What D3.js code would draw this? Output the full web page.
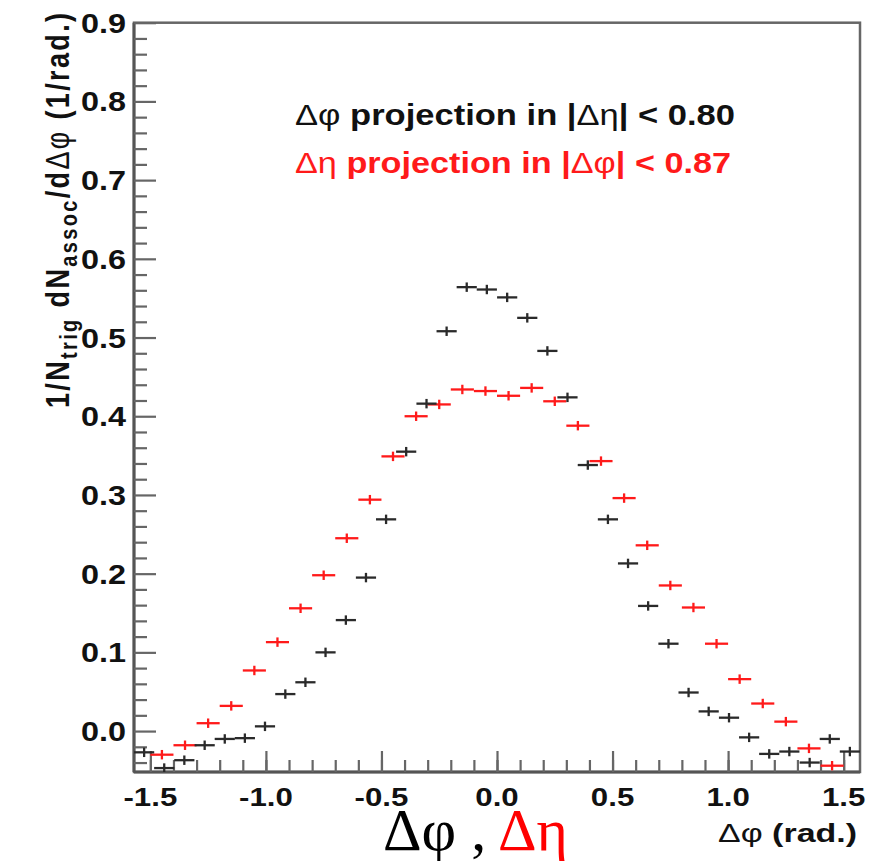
<!DOCTYPE html>
<html>
<head>
<meta charset="utf-8">
<script src="https://cdn.jsdelivr.net/npm/d3@7"></script>
<style>
  html, body { margin: 0; padding: 0; background: #fff; }
  svg { display: block; }
</style>
</head>
<body>
<svg id="chart" width="889" height="861"></svg>
<script>
// ---------------- data ----------------
// Δφ projection in |Δη| < 0.80 (black), 36 bins over [-π/2, π/2]
const blackX = [-1.527, -1.440, -1.353, -1.265, -1.178, -1.091, -1.004, -0.916, -0.829, -0.742,
                -0.654, -0.567, -0.480, -0.393, -0.305, -0.218, -0.131, -0.044, 0.044, 0.131,
                 0.218, 0.305, 0.393, 0.480, 0.567, 0.654, 0.742, 0.829, 0.916, 1.004,
                 1.091, 1.178, 1.265, 1.353, 1.440, 1.527];
const blackY = [-0.027, -0.047, -0.037, -0.018, -0.010, -0.009, 0.006, 0.047, 0.062, 0.100,
                 0.141, 0.195, 0.269, 0.355, 0.416, 0.508, 0.564, 0.561, 0.551, 0.525,
                 0.483, 0.424, 0.338, 0.269, 0.213, 0.159, 0.111, 0.049, 0.025, 0.017,
                -0.008, -0.029, -0.026, -0.040, -0.010, -0.026];
const blackBinWidth = 0.0873;
const blackErr = 0.006;

// Δη projection in |Δφ| < 0.87 (red), 30 bins of width 0.1
const redX = [-1.45, -1.35, -1.25, -1.15, -1.05, -0.95, -0.85, -0.75, -0.65, -0.55,
              -0.45, -0.35, -0.25, -0.15, -0.05, 0.05, 0.15, 0.25, 0.35, 0.45,
               0.55, 0.65, 0.75, 0.85, 0.95, 1.05, 1.15, 1.25, 1.35, 1.45];
const redY = [-0.030, -0.018, 0.010, 0.032, 0.077, 0.113, 0.156, 0.198, 0.245, 0.294,
               0.349, 0.400, 0.415, 0.434, 0.432, 0.426, 0.436, 0.419, 0.388, 0.343,
               0.296, 0.236, 0.185, 0.157, 0.111, 0.066, 0.035, 0.012, -0.022, -0.044];
const redBinWidth = 0.1;
const redErr = 0.006;

// axis ticks
const xMajorTicks = [-1.5, -1.0, -0.5, 0.0, 0.5, 1.0, 1.5];
const xMinorTicks = [-1.5, -1.4, -1.3, -1.2, -1.1, -1.0, -0.9, -0.8, -0.7, -0.6, -0.5, -0.4, -0.3, -0.2, -0.1,
                     0.0, 0.1, 0.2, 0.3, 0.4, 0.5, 0.6, 0.7, 0.8, 0.9, 1.0, 1.1, 1.2, 1.3, 1.4, 1.5];
const xTickLabels = ["-1.5", "-1.0", "-0.5", "0.0", "0.5", "1.0", "1.5"];
const yMajorTicks = [0.0, 0.1, 0.2, 0.3, 0.4, 0.5, 0.6, 0.7, 0.8, 0.9];
const yTickLabels = ["0.0", "0.1", "0.2", "0.3", "0.4", "0.5", "0.6", "0.7", "0.8", "0.9"];
const yMinorTicks = [-0.04, -0.02, 0.02, 0.04, 0.06, 0.08, 0.12, 0.14, 0.16, 0.18, 0.22, 0.24, 0.26, 0.28,
                     0.32, 0.34, 0.36, 0.38, 0.42, 0.44, 0.46, 0.48, 0.52, 0.54, 0.56, 0.58,
                     0.62, 0.64, 0.66, 0.68, 0.72, 0.74, 0.76, 0.78, 0.82, 0.84, 0.86, 0.88];
const xDomain = [-Math.PI / 2, Math.PI / 2];
const yDomain = [-0.052, 0.9];

// ---------------- layout ----------------
const L = 134, R = 860, T = 22.7, B = 772;
const SX = 1.2; // horizontal stretch of the original picture
const svg = d3.select("#chart");
const x = d3.scaleLinear().domain(xDomain).range([L, R]);
const y = d3.scaleLinear().domain(yDomain).range([B, T]);
const axisColor = "#666";
const sans = "'Liberation Sans', Arial, Helvetica, sans-serif";

// frame
svg.append("rect").attr("x", L).attr("y", T).attr("width", R - L).attr("height", B - T)
  .attr("fill", "none").attr("stroke", axisColor).attr("stroke-width", 2.5);
svg.append("line").attr("x1", L).attr("x2", L).attr("y1", T).attr("y2", B)
  .attr("stroke", "#555").attr("stroke-width", 3);
svg.append("line").attr("x1", L).attr("x2", R).attr("y1", B).attr("y2", B)
  .attr("stroke", "#555").attr("stroke-width", 3);

// y axis ticks (inward)
const gy = svg.append("g").attr("transform", `translate(${L},0)`);
gy.call(d3.axisLeft(y).tickValues(yMajorTicks).tickSize(-22).tickFormat(""));
const gy2 = svg.append("g").attr("transform", `translate(${L},0)`);
gy2.call(d3.axisLeft(y).tickValues(yMinorTicks).tickSize(-13).tickFormat(""));
// x axis ticks (inward)
const gx = svg.append("g").attr("transform", `translate(0,${B})`);
gx.call(d3.axisBottom(x).tickValues(xMinorTicks).tickSize(-12).tickFormat(""));
const gx2 = svg.append("g").attr("transform", `translate(0,${B})`);
gx2.call(d3.axisBottom(x).tickValues(xMajorTicks).tickSize(-21).tickFormat(""));
[gy, gy2, gx, gx2].forEach(g => {
  g.select(".domain").remove();
  g.selectAll(".tick line").attr("stroke", axisColor).attr("stroke-width", 2.2);
});

// tick labels
svg.append("g").selectAll("text").data(yMajorTicks).join("text")
  .attr("transform", d => `translate(126,${y(d) + 10}) scale(${SX},1)`)
  .attr("text-anchor", "end")
  .attr("font-family", sans).attr("font-weight", "bold").attr("font-size", 27)
  .attr("fill", "#111")
  .text((d, i) => yTickLabels[i]);
svg.append("g").selectAll("text").data(xMajorTicks).join("text")
  .attr("transform", d => `translate(${x(d)},806) scale(${SX},1)`)
  .attr("text-anchor", "middle")
  .attr("font-family", sans).attr("font-weight", "bold").attr("font-size", 26)
  .attr("fill", "#111")
  .text((d, i) => xTickLabels[i]);

// ---------------- data marks ----------------
function drawSeries(xs, ys, bw, err, color) {
  const g = svg.append("g").attr("stroke", color).attr("stroke-width", 2.3);
  const data = xs.map((v, i) => ({ x: v, y: ys[i] }));
  g.selectAll("line.h").data(data).join("line").attr("class", "h")
    .attr("x1", d => x(d.x - bw / 2)).attr("x2", d => x(d.x + bw / 2))
    .attr("y1", d => y(d.y)).attr("y2", d => y(d.y));
  g.selectAll("line.v").data(data).join("line").attr("class", "v")
    .attr("x1", d => x(d.x)).attr("x2", d => x(d.x))
    .attr("y1", d => Math.min(B, y(d.y - err))).attr("y2", d => Math.min(B, y(d.y + err)));
}
drawSeries(redX, redY, redBinWidth, redErr, "#ff1a1a");
drawSeries(blackX, blackY, blackBinWidth, blackErr, "#2a2a2a");

// ---------------- legend ----------------
const leg1 = svg.append("text").attr("x", 295).attr("y", 125)
  .attr("font-family", sans).attr("font-size", 29).attr("font-weight", "bold").attr("fill", "#111")
  .attr("textLength", 440).attr("lengthAdjust", "spacingAndGlyphs");
leg1.append("tspan").attr("font-weight", "normal").text("Δφ");
leg1.append("tspan").text(" projection in |");
leg1.append("tspan").attr("font-weight", "normal").text("Δη");
leg1.append("tspan").text("| < 0.80");

const leg2 = svg.append("text").attr("x", 295).attr("y", 173)
  .attr("font-family", sans).attr("font-size", 29).attr("font-weight", "bold").attr("fill", "#ff1a1a")
  .attr("textLength", 436).attr("lengthAdjust", "spacingAndGlyphs");
leg2.append("tspan").attr("font-weight", "normal").text("Δη");
leg2.append("tspan").text(" projection in |");
leg2.append("tspan").attr("font-weight", "normal").text("Δφ");
leg2.append("tspan").text("| < 0.87");

// ---------------- axis titles ----------------
const xt = svg.append("text").attr("x", 718).attr("y", 842)
  .attr("font-family", sans).attr("font-size", 25).attr("font-weight", "bold").attr("fill", "#111")
  .attr("textLength", 139).attr("lengthAdjust", "spacingAndGlyphs");
xt.append("tspan").attr("font-weight", "normal").text("Δφ");
xt.append("tspan").text(" (rad.)");

const yt = svg.append("text")
  .attr("transform", `translate(69,408) scale(${SX},1) rotate(-90)`)
  .attr("font-family", sans).attr("font-size", 27).attr("font-weight", "bold").attr("fill", "#111")
  .attr("textLength", 395).attr("lengthAdjust", "spacing");
yt.append("tspan").text("1/N");
yt.append("tspan").attr("font-size", 20).attr("dy", 7).text("trig");
yt.append("tspan").attr("dy", -7).text(" dN");
yt.append("tspan").attr("font-size", 20).attr("dy", 7).text("assoc");
yt.append("tspan").attr("dy", -7).text("/d");
yt.append("tspan").attr("font-weight", "normal").text("Δφ");
yt.append("tspan").text(" (1/rad.)");

// ---------------- big bottom label ----------------
const serif = "'Liberation Serif', 'Times New Roman', serif";
const bl = svg.append("text").attr("x", 383).attr("y", 850)
  .attr("font-family", serif).attr("font-size", 60);
bl.append("tspan").attr("fill", "#000").text("Δφ , ");
bl.append("tspan").attr("fill", "#ff0000").text("Δη");
</script>
</body>
</html>
